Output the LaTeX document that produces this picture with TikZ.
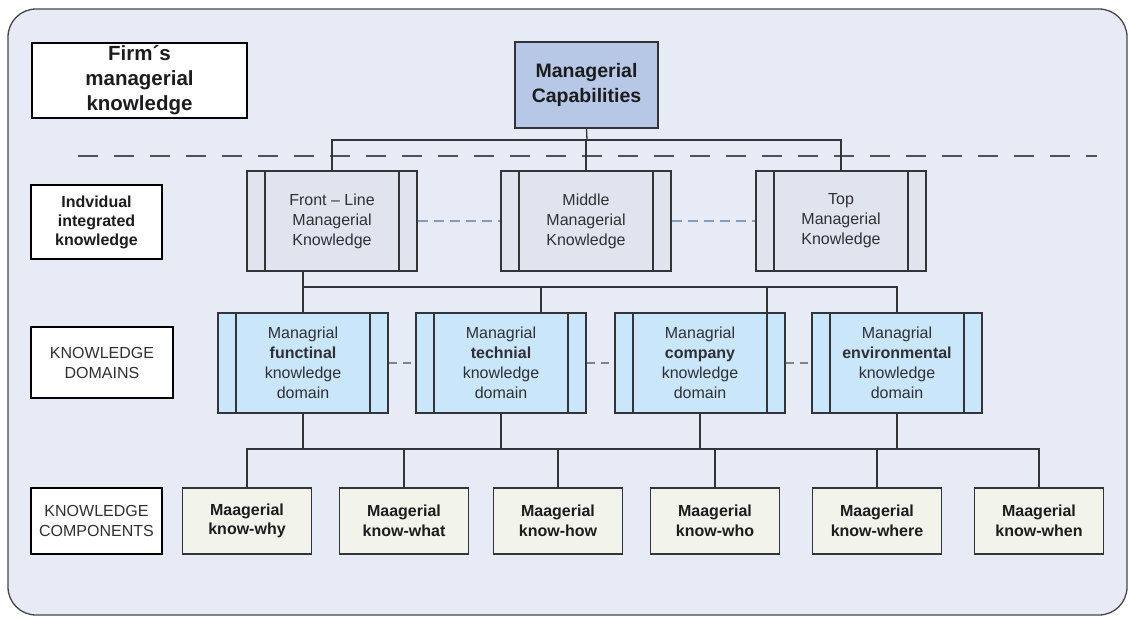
\documentclass[tikz,border=0pt]{standalone}
\usepackage{fontspec}
\setmainfont{Liberation Sans}
\definecolor{framebg}{RGB}{231,235,245}
\definecolor{framedraw}{RGB}{70,70,74}
\definecolor{linegray}{RGB}{50,52,56}
\definecolor{textgray}{RGB}{48,48,52}
\definecolor{textdark}{RGB}{28,28,30}
\definecolor{capfill}{RGB}{182,200,230}
\definecolor{levelfill}{RGB}{224,228,238}
\definecolor{domainfill}{RGB}{202,230,250}
\definecolor{compfill}{RGB}{242,243,234}
\definecolor{bluedash}{RGB}{130,156,190}
\definecolor{graydash}{RGB}{125,130,140}
\definecolor{topdash}{RGB}{80,82,88}
\begin{document}
\begin{tikzpicture}[x=1pt,y=-1pt,
  conn/.style={draw=linegray, line width=1.3pt},
  labelbox/.style={draw=black, line width=2.2pt, fill=white, inner sep=0pt,
    align=center, text=textdark},
  bandbox/.style={draw=linegray, line width=1.3pt, minimum width=170pt,
    minimum height=100pt, inner sep=0pt, align=center, text=textgray,
    font=\fontsize{16}{20}\selectfont,
    path picture={\draw[linegray, line width=1.3pt]
      ([xshift=18pt]path picture bounding box.north west) --
      ([xshift=18pt]path picture bounding box.south west)
      ([xshift=-18pt]path picture bounding box.north east) --
      ([xshift=-18pt]path picture bounding box.south east);}},
  levelbox/.style={bandbox, fill=levelfill},
  domainbox/.style={bandbox, fill=domainfill},
  compbox/.style={draw=linegray, line width=1.3pt, fill=compfill,
    minimum width=129pt, minimum height=66pt, inner sep=0pt, align=center,
    text=textdark, font=\fontsize{16}{19.5}\selectfont\bfseries},
  leveldash/.style={draw=bluedash, line width=1.3pt, dash pattern=on 10pt off 6pt},
  domaindash/.style={draw=graydash, line width=1.1pt, dash pattern=on 8pt off 6pt}]

\useasboundingbox (0,0) rectangle (1131,618);

% outer frame
\draw[fill=framebg, draw=framedraw, line width=1.3pt, rounded corners=28pt]
  (8,9) rectangle (1127,615);

% row labels on the left
\node[labelbox, minimum width=215pt, minimum height=75pt,
  font=\fontsize{20.5}{25}\selectfont\bfseries] (firm) at (139.5,80.5)
  {Firm´s\\managerial\\knowledge};
\node[labelbox, minimum width=131pt, minimum height=74pt,
  font=\fontsize{16}{19}\selectfont\bfseries] (ind) at (96.5,222)
  {Indvidual\\integrated\\knowledge};
\node[labelbox, minimum width=142pt, minimum height=71pt,
  font=\fontsize{16}{20}\selectfont, text=textgray] (kd) at (102,362.5)
  {KNOWLEDGE\\DOMAINS};
\node[labelbox, minimum width=131pt, minimum height=66pt,
  font=\fontsize{16}{19.5}\selectfont, text=textgray] (kc) at (96.5,521)
  {KNOWLEDGE\\COMPONENTS};

% separator between firm level and individual level
\coordinate (sepL) at (78,156);
\coordinate (sepR) at (1097,156);
\draw[topdash, line width=1.8pt, dash pattern=on 20pt off 16pt] (sepL) -- (sepR);

% top node
\node[draw=linegray, line width=1.3pt, fill=capfill, minimum width=143pt,
  minimum height=86pt, inner sep=0pt, align=center, text=textdark,
  font=\fontsize{19.5}{25}\selectfont\bfseries] (mc) at (586.5,85)
  {Managerial\\Capabilities};

% managerial levels
\node[levelbox] (fl) at (332,221) {Front – Line\\Managerial\\Knowledge};
\node[levelbox] (md) at (586,221) {Middle\\Managerial\\Knowledge};
\node[levelbox] (tp) at (841,221) {Top\\Managerial\\Knowledge};

% knowledge domains
\node[domainbox] (fn) at (303,363) {Managrial\\\textbf{functinal}\\knowledge\\domain};
\node[domainbox] (te) at (501,363) {Managrial\\\textbf{technial}\\knowledge\\domain};
\node[domainbox] (co) at (700,363) {Managrial\\\textbf{company}\\knowledge\\domain};
\node[domainbox] (en) at (897,363) {Managrial\\\textbf{environmental}\\knowledge\\domain};

% knowledge components
\node[compbox] (kwy) at (247,521) {Maagerial\\know-why};
\node[compbox] (kwt) at (404,521) {Maagerial\\know-what};
\node[compbox] (kwh) at (558,521) {Maagerial\\know-how};
\node[compbox] (kwo) at (715,521) {Maagerial\\know-who};
\node[compbox] (kwe) at (877,521) {Maagerial\\know-where};
\node[compbox] (kwn) at (1039,521) {Maagerial\\know-when};

% capabilities -> managerial levels
\coordinate (b1) at (587,140);
\draw[conn] (mc.south) -- (b1);
\draw[conn] (fl.north) |- (b1) -| (tp.north);
\draw[conn] (md.north |- b1) -- (md.north);

% managerial levels -> knowledge domains
\coordinate (b2) at (303,287);
\draw[conn] (fl.south -| fn.north) -- (fn.north);
\draw[conn] (b2) -| (en.north);
\draw[conn] ([xshift=40pt]te.north |- b2) -- ([xshift=40pt]te.north);
\draw[conn] ([xshift=67pt]co.north |- b2) -- ([xshift=67pt]co.north);

% knowledge domains -> knowledge components
\coordinate (b3) at (640,449);
\draw[conn] (kwy.north) |- (b3) -| (kwn.north);
\foreach \d in {fn,te,co,en} \draw[conn] (\d.south) -- (\d.south |- b3);
\foreach \c in {kwt,kwh,kwo,kwe} \draw[conn] (\c.north |- b3) -- (\c.north);

% lateral links
\draw[leveldash] (fl.east) -- (md.west);
\draw[leveldash] (md.east) -- (tp.west);
\draw[domaindash] (fn.east) -- (te.west);
\draw[domaindash] (te.east) -- (co.west);
\draw[domaindash] (co.east) -- (en.west);
\end{tikzpicture}
\end{document}
